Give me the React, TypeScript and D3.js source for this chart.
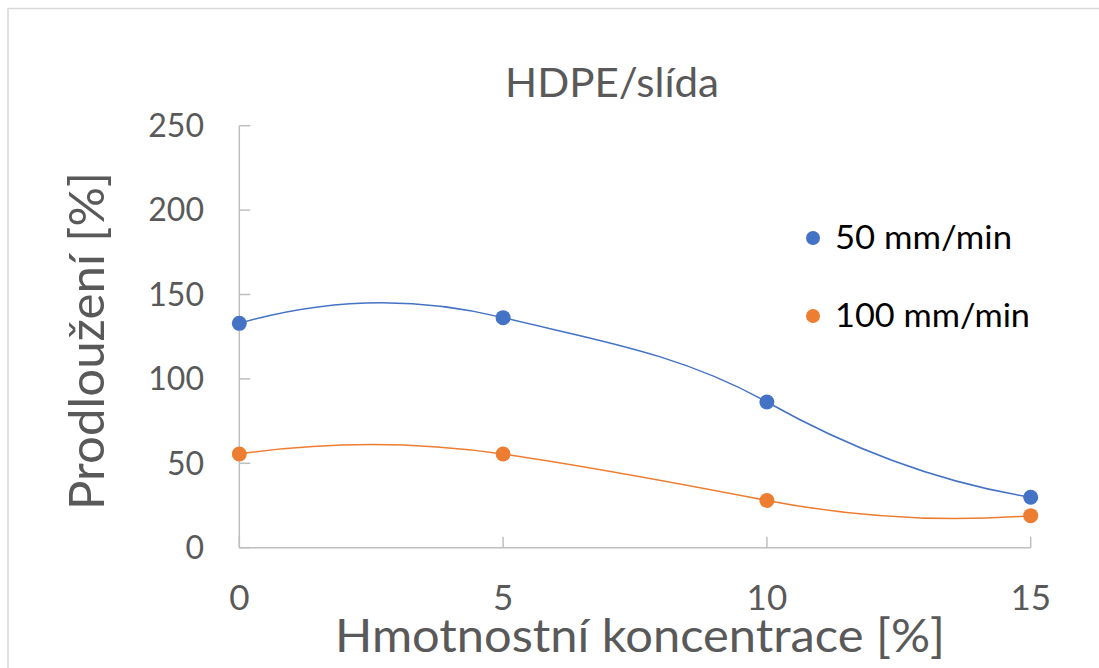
import React from "react";
import * as d3 from "d3";

const xCategories = [0, 5, 10, 15];
const series50 = [132.9, 136.3, 86.3, 29.9];
const series100 = [55.5, 55.5, 28.0, 19.0];
const yTicks = [0, 50, 100, 150, 200, 250];
const seriesNames = ["50 mm/min", "100 mm/min"];
const seriesColors = ["#4472C4", "#ED7D31"];

// Excel-like smoothed line: Hermite spline emitted as cubic Béziers
class ExcelSmooth {
  _context: any; _x: number[] = []; _y: number[] = []; _s = 1.65;
  constructor(ctx: any) { this._context = ctx; }
  areaStart() {} areaEnd() {}
  lineStart() { this._x = []; this._y = []; }
  point(x: number, y: number) { this._x.push(+x); this._y.push(+y); }
  lineEnd() {
    const X = this._x, Y = this._y, n = X.length, c = this._context;
    if (!n) return;
    c.moveTo(X[0], Y[0]);
    if (n === 1) return;
    if (n === 2) { c.lineTo(X[1], Y[1]); return; }
    const m: number[] = new Array(n);
    for (let i = 1; i < n - 1; i++) m[i] = (this._s * (Y[i + 1] - Y[i - 1])) / 2;
    m[0] = 2 * (Y[1] - Y[0]) - m[1];
    m[n - 1] = 2 * (Y[n - 1] - Y[n - 2]) - m[n - 2];
    for (let i = 0; i < n - 1; i++) {
      const dx = X[i + 1] - X[i];
      c.bezierCurveTo(X[i] + dx / 3, Y[i] + m[i] / 3, X[i + 1] - dx / 3, Y[i + 1] - m[i + 1] / 3, X[i + 1], Y[i + 1]);
    }
  }
}
const excelCurve = (ctx: any) => new ExcelSmooth(ctx);

export default function App() {
  const W = 1099, H = 668;
  const x = d3.scaleLinear().domain([0, 15]).range([239.3, 1030.7]);
  const y = d3.scaleLinear().domain([0, 250]).range([547.7, 125.7]);
  const line = d3.line<number>()
    .x((_, i) => x(xCategories[i]))
    .y((d) => y(d))
    .curve(excelCurve as any);
  const allSeries = [series50, series100];
  const font = "Lato, 'Open Sans', sans-serif";
  const grey = "#595959";
  const axisCol = "#bfbfbf";
  const legendWidths = [177, 195];

  return (
    <svg width={W} height={H} style={{ position: "absolute", left: 0, top: 0 }} fontFamily={font}>
      <rect x={0} y={0} width={W} height={H} fill="#fff" />
      <rect x={8} y={8.5} width={W + 20} height={H + 20} fill="none" stroke="#d9d9d9" strokeWidth={1.5} />
      <text x={612} y={97} textAnchor="middle" fontSize={40} fill={grey} textLength={214} lengthAdjust="spacingAndGlyphs">HDPE/slída</text>

      {/* y axis */}
      <line x1={x(0)} x2={x(0)} y1={y(250)} y2={y(0)} stroke={axisCol} strokeWidth={1.5} />
      {yTicks.map((t) => (
        <g key={"y" + t}>
          <line x1={x(0)} x2={x(0) + 11} y1={y(t)} y2={y(t)} stroke={axisCol} strokeWidth={1.5} />
          <text x={204} y={y(t)} dy="0.35em" textAnchor="end" fontSize={32} fill={grey}>{t}</text>
        </g>
      ))}
      {/* x axis */}
      <line x1={x(0)} x2={x(15)} y1={y(0)} y2={y(0)} stroke={axisCol} strokeWidth={1.5} />
      {xCategories.map((t) => (
        <g key={"x" + t}>
          <line x1={x(t)} x2={x(t)} y1={y(0)} y2={y(0) - 11} stroke={axisCol} strokeWidth={1.5} />
          <text x={x(t)} y={610} textAnchor="middle" fontSize={35} fill={grey}>{t}</text>
        </g>
      ))}
      <text x={640} y={652} textAnchor="middle" fontSize={47} fill={grey} textLength={610} lengthAdjust="spacingAndGlyphs">Hmotnostní koncentrace [%]</text>
      <text transform="translate(104,341) rotate(-90)" textAnchor="middle" fontSize={48} fill={grey} textLength={338} lengthAdjust="spacingAndGlyphs">Prodloužení [%]</text>

      {allSeries.map((s, k) => (
        <g key={"s" + k}>
          <path d={line(s) || ""} fill="none" stroke={seriesColors[k]} strokeWidth={1.5} />
          {s.map((v, i) => (
            <circle key={i} cx={x(xCategories[i])} cy={y(v)} r={7.5} fill={seriesColors[k]} />
          ))}
        </g>
      ))}

      {seriesNames.map((name, k) => (
        <g key={"l" + k} transform={`translate(0,${238 + k * 78})`}>
          <circle cx={813} cy={0} r={7} fill={seriesColors[k]} />
          <text x={835} y={0} dy="0.35em" fontSize={32} fill="#000" textLength={legendWidths[k]} lengthAdjust="spacingAndGlyphs">{name}</text>
        </g>
      ))}
    </svg>
  );
}
